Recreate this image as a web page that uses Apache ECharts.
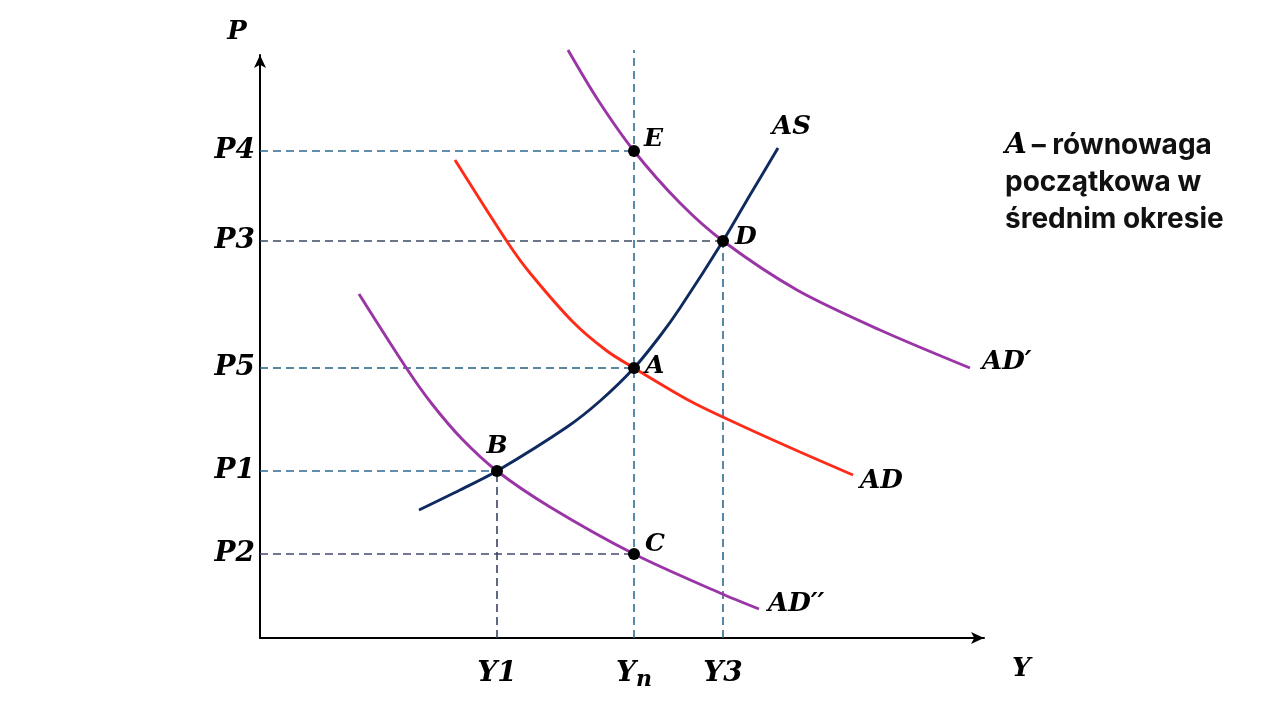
<!DOCTYPE html>
<html>
<head>
<meta charset="utf-8">
<script src="https://cdn.jsdelivr.net/npm/echarts@6/dist/echarts.min.js"></script>
<style>html,body{margin:0;padding:0;background:#fff}#c{width:1280px;height:720px}</style>
</head>
<body>
<div id="c"></div>
<script>
// ---- data (arbitrary units) ----
const pointNames = ['E', 'D', 'A', 'B', 'C'];
const pointX = [37.4, 46.3, 37.4, 23.7, 37.4];
const pointY = [48.7, 39.7, 27.0, 16.7, 8.4];

const priceLabels = ['P4', 'P3', 'P5', 'P1', 'P2'];
const priceValues = [48.7, 39.7, 27.0, 16.7, 8.4];
const priceGuideX = [37.4, 46.3, 37.4, 23.7, 37.4];

const outputLabels = ['Y1', 'Yn', 'Y3'];
const outputValues = [23.7, 37.4, 46.3];
const outputGuideTop = [16.7, 58.8, 39.7];

const asCurve = [[15.9, 12.8], [20.0, 14.8], [23.7, 16.7], [30.7, 21.1], [34.0, 23.7], [37.4, 27.0], [40.0, 30.2], [42.0, 33.0], [46.3, 39.7], [49.0, 44.3], [51.8, 49.0]];
const adCurve = [[19.5, 47.8], [24.8, 39.5], [27.0, 36.5], [31.3, 31.6], [34.7, 28.7], [37.4, 27.0], [43.0, 23.7], [48.0, 21.3], [54.0, 18.6], [59.3, 16.3]];
const adPrimeCurve = [[30.8, 58.8], [33.8, 53.8], [37.4, 48.7], [42.0, 43.5], [46.3, 39.7], [53.7, 34.8], [62.0, 30.8], [71.0, 27.0]];
const adDoubleCurve = [[9.9, 34.4], [14.7, 26.9], [17.2, 23.4], [20.2, 19.9], [23.7, 16.7], [29.0, 13.1], [37.4, 8.4], [46.0, 4.5], [49.9, 2.9]];

const xMax = 72.4;
const yMax = 58.3;

// ---- styles ----
const mathFont = 'DejaVu Serif';
const hColors = ['#2e6a8e', '#3d4a64', '#1f6080', '#2f6a92', '#454a70'];
const vColors = ['#3b4560', '#2e6f90', '#2f6a8c'];

function findIdx(arr, v) {
  for (let i = 0; i < arr.length; i++) if (Math.abs(arr[i] - v) < 1e-6) return i;
  return -1;
}

const series = [];
priceValues.forEach((p, i) => {
  series.push({
    type: 'line', silent: true, symbol: 'none', clip: false, z: 1,
    lineStyle: { color: hColors[i], width: 1.6, type: [8, 5] },
    data: [[0, p], [priceGuideX[i], p]]
  });
});
outputValues.forEach((x, i) => {
  series.push({
    type: 'line', silent: true, symbol: 'none', clip: false, z: 1,
    lineStyle: { color: vColors[i], width: 1.6, type: [8, 5] },
    data: [[x, 0], [x, outputGuideTop[i]]]
  });
});

function curve(name, data, color, offset) {
  return {
    type: 'line', name: name, data: data, smooth: 0.3, symbol: 'none', clip: false, z: 3,
    lineStyle: { color: color, width: 2.9 },
    endLabel: {
      show: true, formatter: name, distance: 0, offset: offset,
      fontFamily: mathFont, fontWeight: 'bold', fontStyle: 'italic', fontSize: 26, color: '#000'
    }
  };
}
series.push(curve('AS', asCurve, '#0e2a5e', [-6, -21]));
series.push(curve('AD', adCurve, '#fe2b19', [7, 6]));
series.push(curve('AD\u2032', adPrimeCurve, '#9a35a6', [12, -6]));
series.push(curve('AD\u2032\u2032', adDoubleCurve, '#9a35a6', [9, -5]));

const labelPos = { E: ['right', [0, -12]], D: ['right', [2, -4]], A: ['right', [1, -2]], B: ['top', [0, -2]], C: ['right', [1, -10]] };
series.push({
  type: 'scatter', z: 5, symbolSize: 12, clip: false,
  itemStyle: { color: '#000', opacity: 1 },
  data: pointNames.map((n, i) => ({
    name: n, value: [pointX[i], pointY[i]],
    label: { show: true, formatter: n, position: labelPos[n][0], offset: labelPos[n][1], distance: 4,
      fontFamily: mathFont, fontWeight: 'bold', fontStyle: 'italic', fontSize: 25, color: '#000', opacity: 1 }
  }))
});

const option = {
  backgroundColor: '#fff',
  animation: false,
  title: {
    left: 1000, top: 122,
    text: '{a|A} {b|\u2013 równowaga}\n{b|początkowa w}\n{b|średnim okresie}',
    textStyle: {
      lineHeight: 37,
      rich: {
        a: { fontFamily: mathFont, fontStyle: 'italic', fontWeight: 'bold', fontSize: 28, color: '#000', lineHeight: 37 },
        b: { fontFamily: 'Inter', fontWeight: 'bold', fontSize: 28, color: '#111', lineHeight: 37 }
      }
    }
  },
  grid: { left: 260, top: 55, width: 724, height: 583, containLabel: false },
  xAxis: {
    type: 'value', min: 0, max: xMax,
    splitLine: { show: false },
    axisLine: { show: true, lineStyle: { color: '#000', width: 2 }, symbol: ['none', 'arrow'], symbolSize: [9, 13] },
    axisTick: { show: false },
    name: 'Y', nameLocation: 'end', nameGap: 28,
    nameTextStyle: { fontFamily: mathFont, fontWeight: 'bold', fontStyle: 'italic', fontSize: 26, color: '#000', verticalAlign: 'top', lineHeight: 62 },
    axisLabel: {
      customValues: outputValues, margin: 22,
      formatter: function (v) {
        const i = findIdx(outputValues, v);
        if (i < 0) return '';
        if (outputLabels[i] === 'Yn') return '{m|Y}{s|n}';
        return '{m|' + outputLabels[i] + '}';
      },
      rich: {
        m: { fontFamily: mathFont, fontWeight: 'bold', fontStyle: 'italic', fontSize: 28, color: '#000', verticalAlign: 'top' },
        s: { fontFamily: mathFont, fontWeight: 'bold', fontStyle: 'italic', fontSize: 22, color: '#000', verticalAlign: 'top', padding: [9, 0, 0, 0] }
      }
    }
  },
  yAxis: {
    type: 'value', min: 0, max: yMax,
    splitLine: { show: false },
    axisLine: { show: true, lineStyle: { color: '#000', width: 2 }, symbol: ['none', 'arrow'], symbolSize: [9, 13] },
    axisTick: { show: false },
    name: 'P', nameLocation: 'end', nameGap: 10,
    nameTextStyle: { fontFamily: mathFont, fontWeight: 'bold', fontStyle: 'italic', fontSize: 26, color: '#000', padding: [0, 46, 0, 0] },
    axisLabel: {
      customValues: priceValues, margin: 5,
      formatter: function (v) {
        const i = findIdx(priceValues, v);
        return i < 0 ? '' : priceLabels[i];
      },
      fontFamily: mathFont, fontWeight: 'bold', fontStyle: 'italic', fontSize: 28, color: '#000'
    }
  },
  series: series
};

const chart = echarts.init(document.getElementById('c'), null, { renderer: 'canvas' });
chart.setOption(option);
</script>
</body>
</html>
